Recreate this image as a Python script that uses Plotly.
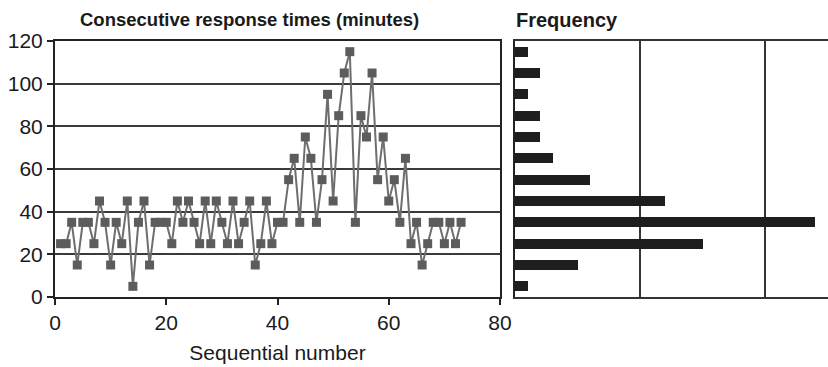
import plotly.graph_objects as go

seq = list(range(1, 74))
times = [25, 25, 35, 15, 35, 35, 25, 45, 35, 15,
         35, 25, 45, 5, 35, 45, 15, 35, 35, 35,
         25, 45, 35, 45, 35, 25, 45, 25, 45, 35,
         25, 45, 25, 35, 45, 15, 25, 45, 25, 35,
         35, 55, 65, 35, 75, 65, 35, 55, 95, 45,
         85, 105, 115, 35, 85, 75, 105, 55, 75, 45,
         55, 35, 65, 25, 35, 15, 25, 35, 35, 25,
         35, 25, 35]
bins = [5, 15, 25, 35, 45, 55, 65, 75, 85, 95, 105, 115]
freq = [1, 5, 15, 24, 12, 6, 3, 2, 2, 1, 2, 1]
y_ticks = [0, 20, 40, 60, 80, 100, 120]
x_ticks = [0, 20, 40, 60, 80]

W, H = 828, 367
fig = go.Figure()
fig.add_trace(go.Scatter(
    x=seq, y=times, mode="lines+markers",
    line=dict(color="#6e6e6e", width=2),
    marker=dict(symbol="square", size=9, color="#5c5c5c",
                line=dict(color="#5c5c5c", width=0)),
    xaxis="x", yaxis="y", showlegend=False, cliponaxis=False))
fig.add_trace(go.Bar(
    x=freq, y=bins, orientation="h", width=4.8,
    marker=dict(color="#1e1e1e", line=dict(width=0)),
    xaxis="x2", yaxis="y2", showlegend=False))

font = "Liberation Sans, Arial, sans-serif"
fig.update_layout(
    width=W, height=H,
    margin=dict(l=0, r=0, t=41, b=70, autoexpand=False),
    paper_bgcolor="white", plot_bgcolor="white",
    font=dict(family=font, color="#1a1a1a", size=21),
    xaxis=dict(domain=[55 / W, 500 / W], range=[0, 80], automargin=False,
               tickvals=x_ticks, ticks="outside", ticklen=6,
               tickcolor="#222", tickwidth=1.5,
               showline=True, linecolor="#222", linewidth=2,
               showgrid=False, zeroline=False, mirror=True,
               title=dict(text="Sequential number", standoff=12,
                          font=dict(size=21))),
    yaxis=dict(domain=[0, 1], range=[0, 120], tickvals=y_ticks,
               automargin=False,
               ticks="outside", ticklen=6, tickcolor="#222", tickwidth=1.5,
               showline=True, linecolor="#222", linewidth=2, mirror=True,
               showgrid=True, gridcolor="#3a3a3a", gridwidth=1.5,
               zeroline=False),
    xaxis2=dict(domain=[515 / W, 1], range=[0, 25], anchor="y2",
                automargin=False,
                tickvals=[10, 20], showticklabels=False, ticks="",
                showgrid=True, gridcolor="#333", gridwidth=1.5,
                showline=True, linecolor="#333", linewidth=2, mirror=True,
                zeroline=False),
    yaxis2=dict(domain=[0, 1], range=[0, 120], anchor="x2",
                automargin=False,
                showticklabels=False, ticks="", showgrid=False,
                showline=True, linecolor="#222", linewidth=2,
                zeroline=False),
    bargap=0,
)
fig.add_annotation(text="<b>Consecutive response times (minutes)</b>",
                   xref="paper", yref="paper", x=78 / W, y=1,
                   yshift=9, xanchor="left", yanchor="bottom",
                   showarrow=False, font=dict(size=18.5, family=font))
fig.add_annotation(text="<b>Frequency</b>",
                   xref="paper", yref="paper", x=514 / W, y=1,
                   yshift=8, xanchor="left", yanchor="bottom",
                   showarrow=False, font=dict(size=20, family=font))
fig.write_html("out.html")
